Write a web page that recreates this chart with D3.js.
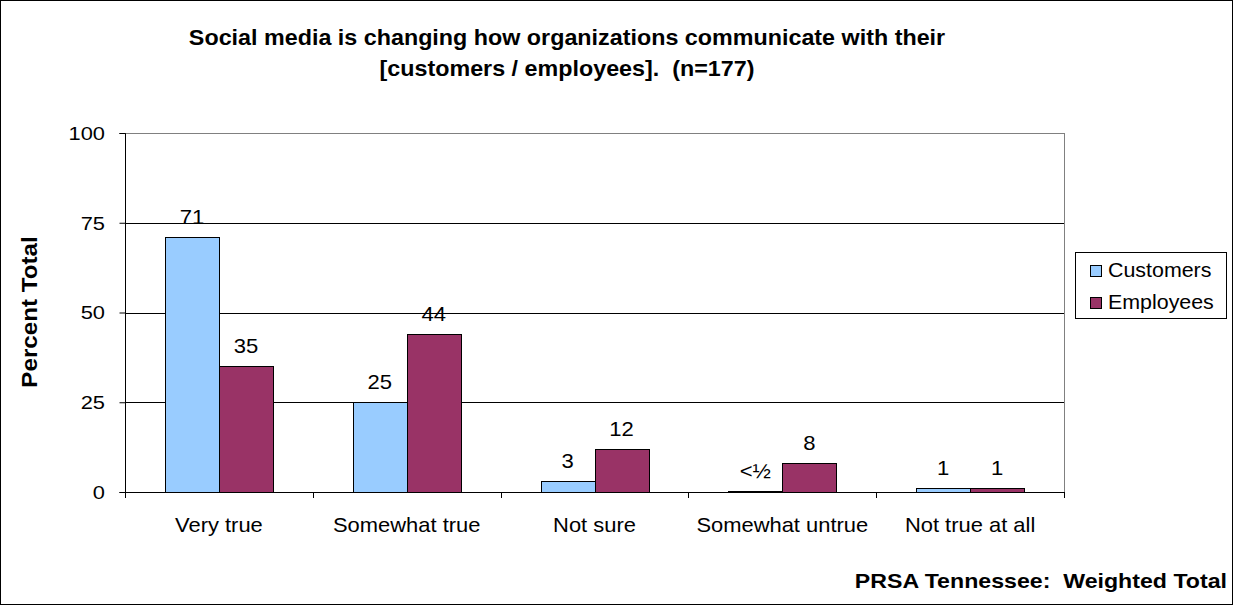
<!DOCTYPE html>
<html>
<head>
<meta charset="utf-8">
<script src="https://cdn.jsdelivr.net/npm/d3@7"></script>
<style>
  html, body { margin: 0; padding: 0; background: #fff; }
  svg { display: block; font-family: "Liberation Sans", Arial, sans-serif; }
</style>
</head>
<body>
<svg id="chart" width="1233" height="605"></svg>
<script>
// Survey responses (percent of respondents)
const categories = ["Very true", "Somewhat true", "Not sure", "Somewhat untrue", "Not true at all"];
const seriesNames = ["Customers", "Employees"];
const customers = [71, 25, 3, 0.4, 1];
const employees = [35, 44, 12, 8, 1];
const customerLabels = ["71", "25", "3", "<\u00BD", "1"];
const employeeLabels = ["35", "44", "12", "8", "1"];
const yTicks = [0, 25, 50, 75, 100];
const colors = ["#99CCFF", "#993366"];

const svg = d3.select("#chart");
const W = 1233, H = 605;

// text helper: places a label with a slight horizontal widening
function label(parent, x, y, str, size, sx, opts = {}) {
  const g = parent.append("g").attr("transform",
    `translate(${x},${y})${opts.rotate ? ` rotate(${opts.rotate})` : ""} scale(${sx},1)`);
  const t = g.append("text")
    .attr("x", 0).attr("y", 0)
    .attr("text-anchor", opts.anchor || "start")
    .attr("font-size", size)
    .attr("font-weight", opts.bold ? "bold" : "normal")
    .attr("fill", "#000")
    .style("white-space", "pre")
    .text(str);
  return t;
}

// outer frame
svg.append("rect").attr("x", 0.5).attr("y", 0.5).attr("width", W - 1).attr("height", H - 1)
  .attr("fill", "#fff").attr("stroke", "#000").attr("stroke-width", 1);

const plot = { left: 125, right: 1064, top: 133, bottom: 492 };

const x = d3.scaleBand().domain(categories).range([plot.left, plot.right]).paddingInner(0).paddingOuter(0);
const inner = d3.scaleBand().domain(seriesNames).range([0, x.bandwidth()]).paddingInner(0).paddingOuter(0.74);
const y = d3.scaleLinear().domain([0, 100]).range([plot.bottom, plot.top]);

// gridlines
svg.append("g").selectAll("line").data(yTicks.filter(d => d > 0)).join("line")
  .attr("x1", plot.left).attr("x2", plot.right)
  .attr("y1", d => Math.round(y(d)) + 0.5).attr("y2", d => Math.round(y(d)) + 0.5)
  .attr("stroke", d => d === 100 ? "#808080" : "#000").attr("stroke-width", 1);

// right edge of plot area
svg.append("line").attr("x1", plot.right + 0.5).attr("x2", plot.right + 0.5)
  .attr("y1", plot.top).attr("y2", plot.bottom).attr("stroke", "#808080");

// bars with value labels
const seriesVals = [customers, employees];
const seriesLbls = [customerLabels, employeeLabels];
const barLayer = svg.append("g");
const labelLayer = svg.append("g");

categories.forEach((cat, i) => {
  seriesNames.forEach((s, k) => {
    const v = seriesVals[k][i];
    const bx = x(cat) + inner(s);
    barLayer.append("rect")
      .attr("x", Math.round(bx) + 0.5)
      .attr("y", Math.round(y(v)) + 0.5)
      .attr("width", Math.round(inner.bandwidth()))
      .attr("height", Math.max(0, Math.round(y(0)) - Math.round(y(v))))
      .attr("fill", colors[k]).attr("stroke", "#000").attr("stroke-width", 1);
    label(labelLayer, bx + inner.bandwidth() / 2, y(v) - 13, seriesLbls[k][i], 21, 1.05, { anchor: "middle" });
  });
});

// y axis
const yAxis = d3.axisLeft(y).tickValues(yTicks).tickSize(6).tickFormat("");
const gy = svg.append("g").attr("transform", `translate(${plot.left + 0.5},0)`).call(yAxis);
gy.select(".domain").attr("stroke", "#000").attr("d", `M-6,${plot.top + 0.5}H0V${plot.bottom + 0.5}H-6`);
gy.selectAll(".tick line").attr("stroke", "#000");
yTicks.forEach(t => label(svg, 105, y(t) + 6.8, String(t), 19, 1.15, { anchor: "end" }));

// x axis baseline and category ticks
const gx = svg.append("g");
gx.append("line").attr("x1", plot.left).attr("x2", plot.right + 1)
  .attr("y1", plot.bottom + 0.5).attr("y2", plot.bottom + 0.5).attr("stroke", "#000");
const boundaries = categories.map(c => x(c)).concat([plot.right]);
gx.selectAll("line.tk").data(boundaries).join("line").attr("class", "tk")
  .attr("x1", d => Math.round(d) + 0.5).attr("x2", d => Math.round(d) + 0.5)
  .attr("y1", plot.bottom).attr("y2", plot.bottom + 6).attr("stroke", "#000");
categories.forEach(c => label(gx, x(c) + x.bandwidth() / 2, 532, c, 20.5, 1.07, { anchor: "middle" }));

// y axis title
label(svg, 37, 312, "Percent Total", 22, 1.1, { anchor: "middle", bold: true, rotate: -90 });

// title
label(svg, 567, 45, "Social media is changing how organizations communicate with their", 22, 1.06, { anchor: "middle", bold: true });
label(svg, 567, 76, "[customers / employees].  (n=177)", 22, 1.06, { anchor: "middle", bold: true });

// legend
const legend = svg.append("g").attr("transform", "translate(1075,252)");
legend.append("rect").attr("x", 0.5).attr("y", 0.5).attr("width", 151).attr("height", 66)
  .attr("fill", "#fff").attr("stroke", "#000");
seriesNames.forEach((s, k) => {
  const row = legend.append("g").attr("transform", `translate(0,${k * 32})`);
  row.append("rect").attr("x", 15.5).attr("y", 13.5).attr("width", 11).attr("height", 11)
    .attr("fill", colors[k]).attr("stroke", "#000");
  label(row, 33, 25, s, 20, 1.07);
});

// footer
label(svg, 1227, 588, "PRSA Tennessee:  Weighted Total", 20.5, 1.13, { anchor: "end", bold: true });
</script>
</body>
</html>
